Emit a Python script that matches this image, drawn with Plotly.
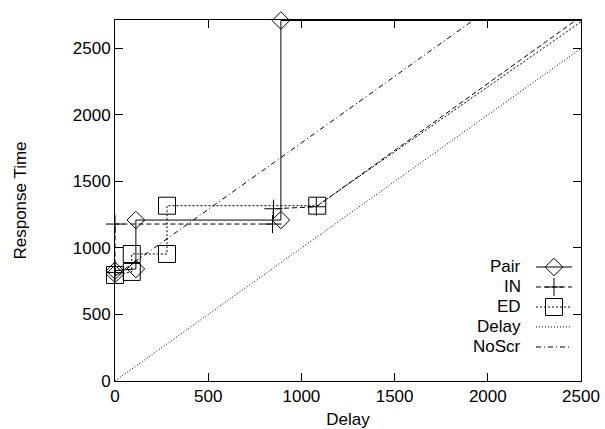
import plotly.graph_objects as go

# ---- data ----
x_ticks = [0, 500, 1000, 1500, 2000, 2500]
y_ticks = [0, 500, 1000, 1500, 2000, 2500]

pair_x = [0, 0, 112, 112, 890, 890, 2500]
pair_y = [805, 830, 842, 1210, 1210, 2710, 2710]

in_x = [0, 0, 845, 850, 1080, 2500]
in_y = [815, 1180, 1180, 1295, 1310, 2740]

ed_x = [0, 90, 90, 279, 279, 1085, 2500]
ed_y = [797, 820, 955, 955, 1318, 1318, 2700]

delay_x = [0, 2500]
delay_y = [0, 2500]

noscr_x = [0, 1925]
noscr_y = [790, 2715]

names = ["Pair", "IN", "ED", "Delay", "NoScr"]
xs = [pair_x, in_x, ed_x, delay_x, noscr_x]
ys = [pair_y, in_y, ed_y, delay_y, noscr_y]

# ---- styles ----
dashes = ["solid", "5px,3px", "2px,2px", "1px,2px", "5px,3px,1px,3px"]
symbols = ["diamond-open", "cross-thin-open", "square-open", None, None]
msizes = [13.5, 13, 17, 0, 0]
X_MAX = 2500
Y_MAX = 2714
FONT = dict(family="Liberation Sans, Arial, sans-serif", size=17, color="black")

fig = go.Figure()

for name, x, y, dash, sym, ms in zip(names, xs, ys, dashes, symbols, msizes):
    fig.add_trace(go.Scatter(x=x, y=y, mode="lines", name=name,
                             line=dict(color="black", width=1, dash=dash),
                             showlegend=False, hoverinfo="skip"))
    if sym:
        mx = [a for a, b in zip(x, y) if a < X_MAX and b <= Y_MAX]
        my = [b for a, b in zip(x, y) if a < X_MAX and b <= Y_MAX]
        fig.add_trace(go.Scatter(x=mx, y=my, mode="markers", name=name,
                                 marker=dict(symbol=sym, size=ms, color="black",
                                             line=dict(color="black", width=1)),
                                 cliponaxis=False, showlegend=False))

# ---- custom legend (gnuplot style: text then sample) ----
leg_text_x = 0.8755
leg_x0, leg_x1, leg_xm = 0.9034, 0.9807, 0.942
leg_rows = [0.3158, 0.2604, 0.2050, 0.1496, 0.0942]
annotations = []
for name, dash, sym, ms, ry in zip(names, dashes, symbols, msizes, leg_rows):
    annotations.append(dict(x=leg_text_x, y=ry, xref="paper", yref="paper",
                            text=name, showarrow=False, xanchor="right",
                            yanchor="middle", font=FONT))
    fig.add_trace(go.Scatter(x=[leg_x0, leg_x1], y=[ry, ry], xaxis="x2", yaxis="y2",
                             mode="lines", line=dict(color="black", width=1, dash=dash),
                             showlegend=False, hoverinfo="skip"))
    if sym:
        fig.add_trace(go.Scatter(x=[leg_xm], y=[ry], xaxis="x2", yaxis="y2",
                                 mode="markers",
                                 marker=dict(symbol=sym, size=ms, color="black",
                                             line=dict(color="black", width=1)),
                                 cliponaxis=False, showlegend=False, hoverinfo="skip"))

axis_common = dict(showline=True, linecolor="black", linewidth=1, mirror="ticks",
                   ticks="inside", ticklen=8, tickcolor="black", tickwidth=1,
                   showgrid=False, zeroline=False, tickfont=FONT, automargin=False)

fig.update_layout(
    width=605, height=429,
    margin=dict(l=115, r=24, t=20, b=48),
    paper_bgcolor="white", plot_bgcolor="white",
    showlegend=False,
    font=FONT,
    annotations=annotations,
    xaxis=dict(range=[0, X_MAX], tickvals=x_ticks,
               title=dict(text="Delay", font=FONT, standoff=7), **axis_common),
    yaxis=dict(range=[0, Y_MAX], tickvals=y_ticks,
               title=dict(text="Response Time", font=FONT, standoff=41), **axis_common),
    xaxis2=dict(overlaying="x", range=[0, 1], visible=False),
    yaxis2=dict(overlaying="y", range=[0, 1], visible=False),
)

fig.write_html(
    "out.html",
    config={"displayModeBar": False},
    post_script="document.body.style.margin='0';document.body.style.overflow='hidden';",
)
